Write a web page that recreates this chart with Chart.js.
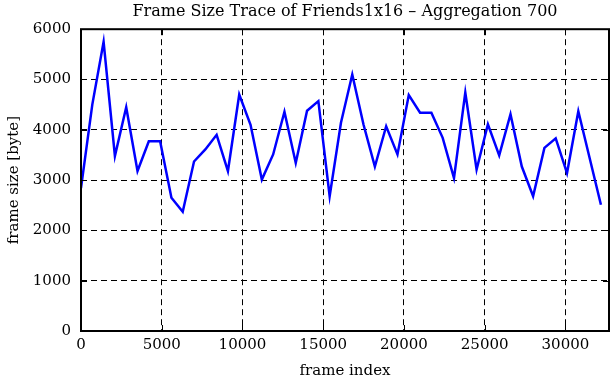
<!DOCTYPE html>
<html>
<head>
<meta charset="utf-8">
<script src="https://cdn.jsdelivr.net/npm/chart.js@4.4.0/dist/chart.umd.min.js"></script>
<style>
  html, body { margin: 0; padding: 0; background: #fff; }
</style>
</head>
<body>
<canvas id="chart" width="611" height="380"></canvas>
<script>
// frame index of each aggregated sample (aggregation 700)
const frameIndex = [
  0, 700, 1400, 2100, 2800, 3500, 4200, 4900, 5600, 6300,
  7000, 7700, 8400, 9100, 9800, 10500, 11200, 11900, 12600, 13300,
  14000, 14700, 15400, 16100, 16800, 17500, 18200, 18900, 19600, 20300,
  21000, 21700, 22400, 23100, 23800, 24500, 25200, 25900, 26600, 27300,
  28000, 28700, 29400, 30100, 30800, 31500, 32200
];
// frame size [byte]
const frameSize = [
  2840, 4500, 5750, 3480, 4450, 3180, 3770, 3770, 2650, 2370,
  3370, 3610, 3900, 3180, 4700, 4100, 3010, 3510, 4360, 3340,
  4380, 4570, 2680, 4140, 5100, 4100, 3270, 4070, 3510, 4690,
  4340, 4340, 3840, 3040, 4740, 3210, 4110, 3490, 4310, 3270,
  2680, 3640, 3830, 3140, 4370, 3440, 2510
];
const xTicks = [0, 5000, 10000, 15000, 20000, 25000, 30000];
const yTicks = [0, 1000, 2000, 3000, 4000, 5000, 6000];

const serif = 'DejaVu Serif';

// gnuplot-style solid border with small inward tick marks
const framePlugin = {
  id: 'frame',
  afterDatasetsDraw(chart) {
    const { ctx, chartArea: a, scales } = chart;
    ctx.save();
    ctx.strokeStyle = '#000';
    ctx.lineWidth = 1;
    ctx.beginPath();
    xTicks.forEach(v => {
      const x = Math.round(scales.x.getPixelForValue(v)) + 0.5;
      ctx.moveTo(x, a.bottom); ctx.lineTo(x, a.bottom - 6);
      ctx.moveTo(x, a.top); ctx.lineTo(x, a.top + 6);
    });
    yTicks.forEach(v => {
      const y = Math.round(scales.y.getPixelForValue(v)) + 0.5;
      ctx.moveTo(a.left, y); ctx.lineTo(a.left + 6, y);
      ctx.moveTo(a.right, y); ctx.lineTo(a.right - 6, y);
    });
    ctx.stroke();
    ctx.lineWidth = 2;
    ctx.strokeRect(a.left, a.top, a.right - a.left, a.bottom - a.top);
    ctx.restore();
  }
};

new Chart(document.getElementById('chart'), {
  type: 'line',
  data: {
    datasets: [{
      data: frameIndex.map((x, i) => ({ x: x, y: frameSize[i] })),
      borderColor: '#0000ff',
      borderWidth: 2.5,
      pointRadius: 0,
      tension: 0,
      fill: false
    }]
  },
  options: {
    responsive: false,
    animation: false,
    devicePixelRatio: 1,
    layout: { padding: { left: 0, right: 2, top: 0, bottom: 0 } },
    plugins: {
      legend: { display: false },
      tooltip: { enabled: false },
      title: {
        display: true,
        fullSize: false,
        text: 'Frame Size Trace of Friends1x16 \u2013 Aggregation 700',
        color: '#000',
        font: { family: serif, size: 16, weight: 'normal' },
        padding: { top: 2, bottom: 8 }
      }
    },
    scales: {
      x: {
        type: 'linear',
        min: 0,
        max: 32700,
        afterBuildTicks: s => { s.ticks = xTicks.map(v => ({ value: v })); },
        afterFit: s => { s.height = 49; },
        grid: { color: '#000', lineWidth: 1, drawTicks: false },
        border: { display: false, dash: [6, 4] },
        ticks: {
          color: '#000',
          padding: 5,
          maxRotation: 0,
          autoSkip: false,
          font: { family: serif, size: 15 },
          callback: v => String(v)
        },
        title: {
          display: true,
          text: 'frame index',
          color: '#000',
          font: { family: serif, size: 15 },
          padding: { top: 0, bottom: 0 }
        }
      },
      y: {
        min: 0,
        max: 6000,
        afterBuildTicks: s => { s.ticks = yTicks.map(v => ({ value: v })); },
        afterFit: s => { s.width = 81; },
        grid: { color: '#000', lineWidth: 1, drawTicks: false },
        border: { display: false, dash: [6, 4] },
        ticks: {
          color: '#000',
          padding: 10,
          font: { family: serif, size: 15 },
          callback: v => String(v)
        },
        title: {
          display: true,
          text: 'frame size [byte]',
          color: '#000',
          font: { family: serif, size: 15 },
          padding: { top: 5, bottom: 5 }
        }
      }
    }
  },
  plugins: [framePlugin]
});
</script>
</body>
</html>
